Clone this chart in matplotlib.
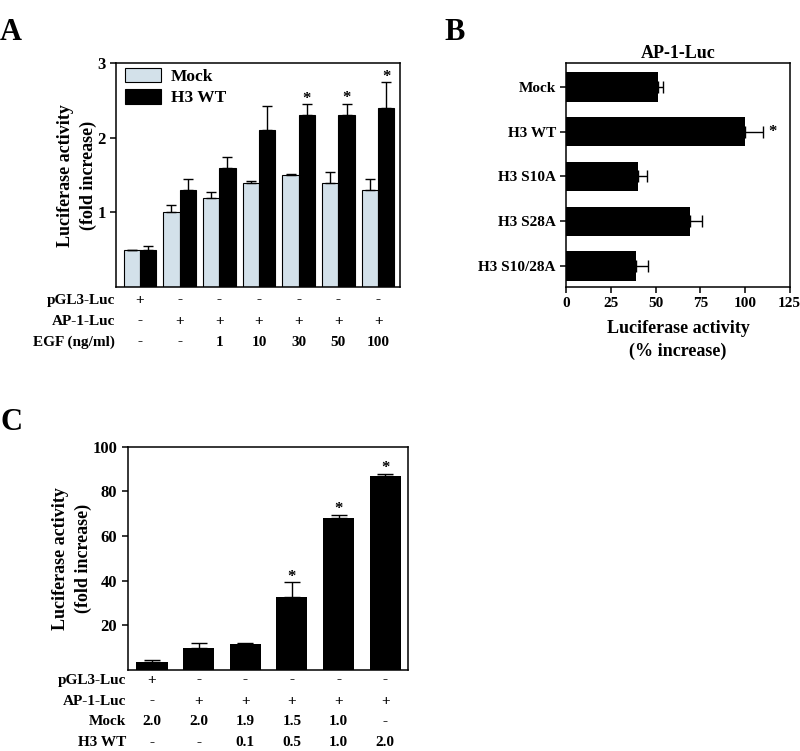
import numpy as np
import matplotlib.pyplot as plt

plt.rcParams['font.family'] = ['Liberation Serif', 'DejaVu Serif']
plt.rcParams['font.weight'] = 'bold'
plt.rcParams['axes.linewidth'] = 1.1
plt.rcParams['xtick.major.width'] = 1.1
plt.rcParams['ytick.major.width'] = 1.1

# Panel A data
pgl3_a = ['+', '-', '-', '-', '-', '-', '-']
ap1_a = ['-', '+', '+', '+', '+', '+', '+']
egf_a = ['-', '-', '1', '10', '30', '50', '100']
mock_a = [0.5, 1.0, 1.2, 1.4, 1.5, 1.4, 1.3]
mock_a_err = [0.0, 0.1, 0.08, 0.02, 0.01, 0.14, 0.15]
h3_a = [0.5, 1.3, 1.6, 2.1, 2.3, 2.3, 2.4]
h3_a_err = [0.05, 0.15, 0.14, 0.33, 0.15, 0.16, 0.35]
sig_a = [False, False, False, False, True, True, True]

# Panel B data
labels_b = ['Mock', 'H3 WT', 'H3 S10A', 'H3 S28A', 'H3 S10/28A']
vals_b = [51.5, 100, 40, 69, 39]
err_b = [2.8, 10, 5, 7, 6.5]
sig_b = [False, True, False, False, False]

# Panel C data
pgl3_c = ['+', '-', '-', '-', '-', '-']
ap1_c = ['-', '+', '+', '+', '+', '+']
mockdose_c = ['2.0', '2.0', '1.9', '1.5', '1.0', '-']
h3dose_c = ['-', '-', '0.1', '0.5', '1.0', '2.0']
vals_c = [3.7, 10, 11.8, 32.8, 67.9, 87]
err_c = [0.7, 2.0, 0.3, 6.6, 1.7, 0.9]
sig_c = [False, False, False, True, True, True]

MOCK_COLOR = '#d3e1ea'
FS = 11

fig = plt.figure(figsize=(8, 7.51), dpi=100)


def add_table(ax, rows, row_ys, label_x):
    trans = ax.get_xaxis_transform()
    for (name, cells), y in zip(rows, row_ys):
        ax.text(label_x, y, name, transform=ax.transAxes, ha='right', va='center',
                fontsize=FS, fontweight='bold')
        for i, c in enumerate(cells):
            ax.text(i, y, c, transform=trans, ha='center', va='center',
                    fontsize=FS, fontweight='bold', clip_on=False)


def add_stars(ax, xs, tops, flags, dy=-2):
    for x, t, f in zip(xs, tops, flags):
        if f:
            ax.annotate('*', (x, t), xytext=(0, dy), textcoords='offset points',
                        ha='center', va='bottom', fontsize=FS + 1, fontweight='bold')


# ---- A ----
axA = fig.add_axes([0.145, 0.6178, 0.355, 0.298])
x = np.arange(len(mock_a))
w = 0.41
zeros = np.zeros(len(x))
axA.bar(x - w / 2, mock_a, w, color=MOCK_COLOR, edgecolor='black', linewidth=0.8,
        yerr=[zeros, mock_a_err], capsize=3.5, error_kw=dict(elinewidth=1, capthick=1),
        label='Mock')
axA.bar(x + w / 2, h3_a, w, color='black', edgecolor='black', linewidth=0.8,
        yerr=[zeros, h3_a_err], capsize=3.5, error_kw=dict(elinewidth=1, capthick=1),
        label='H3 WT')
add_stars(axA, x + w / 2, np.add(h3_a, h3_a_err), sig_a)
axA.set_xlim(-0.6, 6.55)
axA.set_ylim(0, 3)
axA.set_yticks([1, 2, 3])
axA.set_xticks([])
axA.tick_params(axis='y', direction='out', length=4, labelsize=FS + 1)
for t in axA.get_yticklabels():
    t.set_fontweight('bold')
axA.set_ylabel('Luciferase activity\n(fold increase)', fontsize=13, fontweight='bold',
               labelpad=0, linespacing=1.45)
axA.legend(loc='upper left', bbox_to_anchor=(0.03, 0.98), frameon=False, fontsize=FS + 1.5,
           handlelength=2.1, handleheight=0.9, handletextpad=0.55, borderaxespad=0,
           borderpad=0, labelspacing=0.25)
add_table(axA, [('pGL3-Luc', pgl3_a), ('AP-1-Luc', ap1_a), ('EGF (ng/ml)', egf_a)],
          [-0.058, -0.152, -0.246], -0.004)
fig.text(0.0, 0.957, 'A', fontsize=22, fontweight='bold', va='center')

# ---- B ----
axB = fig.add_axes([0.708, 0.6178, 0.279, 0.298])
yb = np.arange(len(vals_b))
axB.barh(yb, vals_b, 0.65, color='black', xerr=[np.zeros(len(yb)), err_b],
         capsize=4.5, error_kw=dict(elinewidth=1, capthick=1))
for y, v, e, f in zip(yb, vals_b, err_b, sig_b):
    if f:
        axB.annotate('*', (v + e, y), xytext=(4, 0), textcoords='offset points',
                     ha='left', va='center', fontsize=FS + 1, fontweight='bold')
axB.set_ylim(4.47, -0.53)
axB.set_xlim(0, 125)
axB.set_xticks([0, 25, 50, 75, 100, 125])
axB.set_yticks(yb)
axB.set_yticklabels(labels_b)
axB.tick_params(direction='out', length=4, labelsize=FS)
for t in axB.get_xticklabels() + axB.get_yticklabels():
    t.set_fontweight('bold')
axB.set_title('AP-1-Luc', fontsize=13, fontweight='bold', pad=4)
axB.set_xlabel('Luciferase activity\n(% increase)', fontsize=13, fontweight='bold',
               labelpad=7, linespacing=1.45)
fig.text(0.556, 0.957, 'B', fontsize=22, fontweight='bold', va='center')

# ---- C ----
axC = fig.add_axes([0.1596, 0.1079, 0.351, 0.2973])
xc = np.arange(len(vals_c))
axC.bar(xc, vals_c, 0.67, color='black', yerr=[np.zeros(len(xc)), err_c], capsize=5.5,
        error_kw=dict(elinewidth=1, capthick=1))
add_stars(axC, xc, np.add(vals_c, err_c), sig_c)
axC.set_xlim(-0.52, 5.5)
axC.set_ylim(0, 100)
axC.set_yticks([20, 40, 60, 80, 100])
axC.set_xticks([])
axC.tick_params(axis='y', direction='out', length=4, labelsize=FS + 1)
for t in axC.get_yticklabels():
    t.set_fontweight('bold')
axC.set_ylabel('Luciferase activity\n(fold increase)', fontsize=13, fontweight='bold',
               labelpad=0, linespacing=1.45)
add_table(axC, [('pGL3-Luc', pgl3_c), ('AP-1-Luc', ap1_c), ('Mock', mockdose_c),
                ('H3 WT', h3dose_c)], [-0.045, -0.139, -0.233, -0.327], -0.006)
fig.text(0.0, 0.437, 'C', fontsize=22, fontweight='bold', va='center')

fig.savefig('out.png', dpi=100)
